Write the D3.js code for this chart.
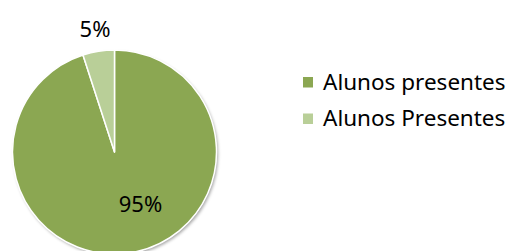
<!DOCTYPE html>
<html>
<head>
<meta charset="utf-8">
<script src="https://cdn.jsdelivr.net/npm/d3@7"></script>
<style>
  body { margin: 0; background: #fff; }
  text { font-family: "Noto Sans", "Open Sans", sans-serif; fill: #000; }
</style>
</head>
<body>
<svg id="chart" width="513" height="251"></svg>
<script>
var categories = ["Alunos presentes", "Alunos Presentes"];
var values = [95, 5];
var labels = ["95%", "5%"];
var colors = ["#8ba752", "#b9cf98"];

(function() {
  var svg = d3.select("#chart");
  var cx = 114.5, cy = 152, radius = 102;

  var defs = svg.append("defs");
  var filter = defs.append("filter").attr("id", "shadow")
      .attr("x", "-20%").attr("y", "-20%").attr("width", "140%").attr("height", "140%");
  filter.append("feDropShadow")
      .attr("dx", 1.5).attr("dy", 2).attr("stdDeviation", 1.8)
      .attr("flood-color", "#000").attr("flood-opacity", 0.35);

  // slices clockwise from 12 o'clock; small one ends at top
  var pie = d3.pie().sort(null).value(function(d) { return d; });
  var arcs = pie(values);
  var arc = d3.arc().innerRadius(0).outerRadius(radius);

  var g = svg.append("g").attr("transform", "translate(" + cx + "," + cy + ")");

  g.append("circle").attr("r", radius).attr("fill", "#fff").attr("filter", "url(#shadow)");

  g.selectAll("path.slice")
    .data(arcs)
    .enter().append("path")
      .attr("class", "slice")
      .attr("d", arc)
      .attr("fill", function(d, i) { return colors[i]; })
      .attr("stroke", "#fff")
      .attr("stroke-width", 1.5)
      .attr("stroke-linejoin", "round");

  // data labels: big slice inside, small slice outside
  var outer = d3.arc().innerRadius(radius * 1.22).outerRadius(radius * 1.22);
  g.selectAll("text.lbl")
    .data(arcs)
    .enter().append("text")
      .attr("class", "lbl")
      .attr("text-anchor", "middle")
      .attr("dy", "0.35em")
      .attr("font-size", 22)
      .attr("transform", function(d, i) {
        var p = i === 0 ? [26, 52] : outer.centroid(d);
        return "translate(" + p + ")";
      })
      .text(function(d, i) { return labels[i]; });

  var legend = svg.append("g").attr("transform", "translate(303,0)");
  var rowY = d3.scalePoint().domain(categories).range([82, 118.5]);
  var item = legend.selectAll("g.item")
    .data(categories)
    .enter().append("g")
      .attr("class", "item")
      .attr("transform", function(d) { return "translate(0," + rowY(d) + ")"; });
  item.append("rect")
      .attr("x", 0).attr("y", -5).attr("width", 10).attr("height", 10.5)
      .attr("fill", function(d, i) { return colors[i]; });
  item.append("text")
      .attr("x", 20).attr("dy", "0.35em")
      .attr("font-size", 22.5)
      .text(function(d) { return d; });
})();
</script>
</body>
</html>
